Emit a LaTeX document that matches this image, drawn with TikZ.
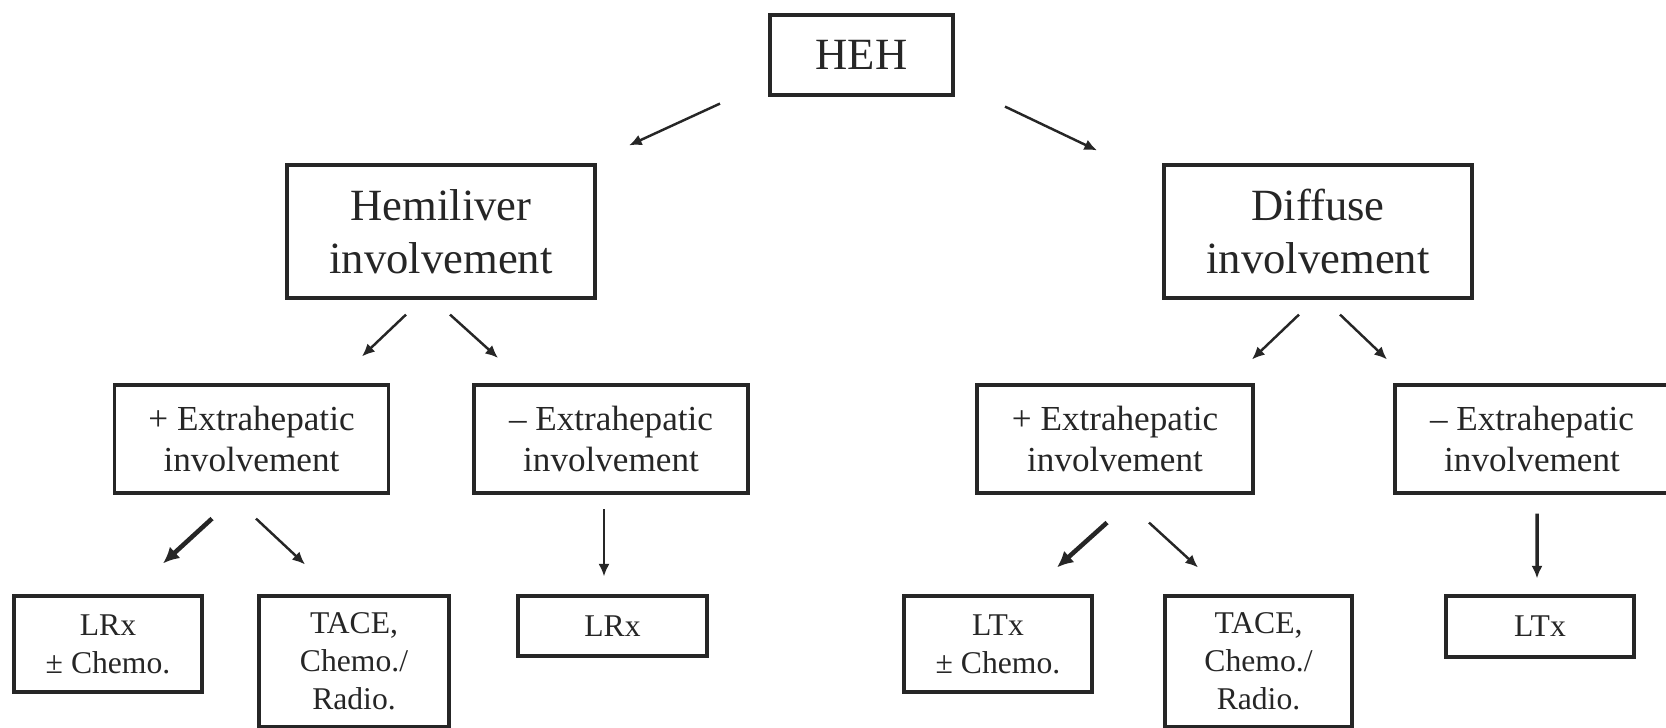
\documentclass[tikz,border=0pt]{standalone}
\usepackage{fontspec}
\setmainfont{Liberation Serif}
\usepackage{tikz}
\usetikzlibrary{arrows.meta}
\tikzset{
    box_big/.style={rectangle, draw=black!85, line width=0.9pt, text=black!85, align=center, inner sep=0pt, font=\fontsize{12.7}{15.2}\selectfont},
    box_mid/.style={rectangle, draw=black!85, line width=0.9pt, text=black!85, align=center, inner sep=0pt, minimum width=2.74cm, minimum height=1.08cm, font=\fontsize{10}{11.4}\selectfont},
    box_small/.style={rectangle, draw=black!85, line width=0.9pt, text=black!85, align=center, inner sep=0pt, minimum width=1.88cm, font=\fontsize{9}{10.8}\selectfont},
    arrow/.style={-{Latex[length=3.6pt, width=3.2pt]}, line width=0.7pt, black!85},
    arrow_bold/.style={-{Latex[length=4.6pt, width=4.4pt]}, line width=1.3pt, black!85}
}

\begin{document}
\begin{tikzpicture}
    \useasboundingbox (0,0) rectangle (16.66,-7.28);
    \clip (0,0) rectangle (16.66,-7.28);

    \node (heh) [box_big, minimum width=1.83cm, minimum height=0.80cm] at (8.615,-0.55) {HEH};

    \node (hemi) [box_big, minimum width=3.08cm, minimum height=1.33cm] at (4.41,-2.315) {Hemiliver\\involvement};
    \node (diff) [box_big, minimum width=3.08cm, minimum height=1.33cm] at (13.18,-2.315) {Diffuse\\involvement};

    \node (hplus) [box_mid] at (2.515,-4.39) {+ Extrahepatic\\involvement};
    \node (hminus) [box_mid] at (6.11,-4.39) {-- Extrahepatic\\involvement};
    \node (dplus) [box_mid, minimum width=2.76cm] at (11.15,-4.39) {+ Extrahepatic\\involvement};
    \node (dminus) [box_mid] at (15.32,-4.39) {-- Extrahepatic\\involvement};

    \node (hlrx) [box_small, minimum height=0.96cm] at (1.08,-6.44) {LRx\\± Chemo.};
    \node (htace) [box_small, minimum width=1.90cm, minimum height=1.31cm] at (3.54,-6.615) {TACE,\\Chemo./\\Radio.};
    \node (hlrx2) [box_small, minimum width=1.89cm, minimum height=0.60cm] at (6.125,-6.26) {LRx};
    \node (dltx) [box_small, minimum height=0.96cm] at (9.98,-6.44) {LTx\\± Chemo.};
    \node (dtace) [box_small, minimum width=1.87cm, minimum height=1.31cm] at (12.585,-6.615) {TACE,\\Chemo./\\Radio.};
    \node (dltx2) [box_small, minimum height=0.61cm] at (15.40,-6.265) {LTx};

    % Arrows
    \draw [arrow] ([xshift=-1.415cm, yshift=-0.07cm]heh.south) -- ([xshift=1.88cm, yshift=0.18cm]hemi.north);
    \draw [arrow] ([xshift=1.435cm, yshift=-0.10cm]heh.south) -- ([xshift=-2.21cm, yshift=0.13cm]diff.north);

    \draw [arrow] ([xshift=-0.35cm, yshift=-0.15cm]hemi.south) -- ([xshift=1.105cm, yshift=0.27cm]hplus.north);
    \draw [arrow] ([xshift=0.09cm, yshift=-0.15cm]hemi.south) -- ([xshift=-1.13cm, yshift=0.255cm]hminus.north);
    \draw [arrow] ([xshift=-0.19cm, yshift=-0.15cm]diff.south) -- ([xshift=1.37cm, yshift=0.24cm]dplus.north);
    \draw [arrow] ([xshift=0.22cm, yshift=-0.15cm]diff.south) -- ([xshift=-1.45cm, yshift=0.24cm]dminus.north);

    \draw [arrow_bold] ([xshift=-0.395cm, yshift=-0.24cm]hplus.south) -- ([xshift=0.55cm, yshift=0.31cm]hlrx.north);
    \draw [arrow] ([xshift=0.045cm, yshift=-0.24cm]hplus.south) -- ([xshift=-0.49cm, yshift=0.30cm]htace.north);
    \draw [arrow] ([xshift=-0.07cm, yshift=-0.145cm]hminus.south) -- ([xshift=-0.085cm, yshift=0.18cm]hlrx2.north);

    \draw [arrow_bold] ([xshift=-0.08cm, yshift=-0.28cm]dplus.south) -- ([xshift=0.59cm, yshift=0.27cm]dltx.north);
    \draw [arrow] ([xshift=0.34cm, yshift=-0.28cm]dplus.south) -- ([xshift=-0.605cm, yshift=0.27cm]dtace.north);
    \draw [arrow, line width=1pt] ([xshift=0.05cm, yshift=-0.19cm]dminus.south) -- ([xshift=-0.03cm, yshift=0.16cm]dltx2.north);
\end{tikzpicture}
\end{document}
